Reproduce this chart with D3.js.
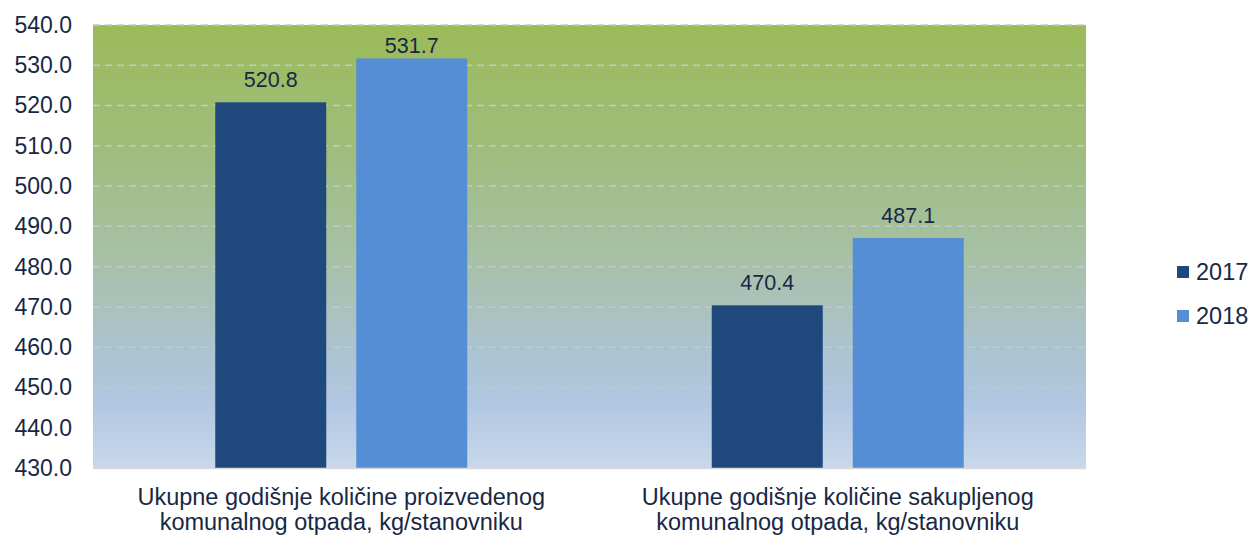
<!DOCTYPE html>
<html><head><meta charset="utf-8">
<script src="https://cdn.jsdelivr.net/npm/d3@7"></script>
<style>body{margin:0;background:#fff}svg{display:block}</style>
</head><body>
<script>
const categories = [
  ["Ukupne godišnje količine proizvedenog", "komunalnog otpada, kg/stanovniku"],
  ["Ukupne godišnje količine sakupljenog", "komunalnog otpada, kg/stanovniku"]
];
const seriesNames = ["2017", "2018"];
const values2017 = [520.8, 470.4];
const values2018 = [531.7, 487.1];
const seriesColors = ["#1f497d", "#558ed5"];
const yTicks = [430, 440, 450, 460, 470, 480, 490, 500, 510, 520, 530, 540];

const W = 1252, H = 538;
const m = {left: 93, right: 1086, top: 25, bottom: 468};
const svg = d3.select("body").append("svg").attr("width", W).attr("height", H);
const font = "Liberation Sans, Arial, sans-serif";
const txt = "#182844";

const defs = svg.append("defs");
const grad = defs.append("linearGradient").attr("id", "bg").attr("x1", 0).attr("y1", 0).attr("x2", 0).attr("y2", 1);
[["0%", "#9bbb59"], ["30%", "#a0bd7f"], ["55%", "#a8c1ab"], ["72%", "#abc3cd"], ["85%", "#b0c6e2"], ["100%", "#c9d8ea"]]
  .forEach(([o, c]) => grad.append("stop").attr("offset", o).attr("stop-color", c));

const y = d3.scaleLinear().domain([430, 540]).range([m.bottom, m.top]);
const x0 = d3.scaleBand().domain(d3.range(categories.length)).range([m.left, m.right]).paddingInner(0).paddingOuter(0);
const groupW = 252;
const x1 = d3.scaleBand().domain(seriesNames).range([0, groupW]).paddingInner(30 / 141).paddingOuter(0);

svg.append("rect").attr("x", m.left).attr("y", m.top).attr("width", m.right - m.left).attr("height", m.bottom - m.top).attr("fill", "url(#bg)");

// gridlines
svg.append("g").selectAll("line").data(yTicks.filter(t => t > 430)).join("line")
  .attr("x1", m.left).attr("x2", m.right).attr("y1", d => y(d)).attr("y2", d => y(d))
  .attr("stroke", "#c4c8d0").attr("stroke-width", 1.5).attr("stroke-dasharray", "7,5");

// y axis
const yAxis = d3.axisLeft(y).tickValues(yTicks).tickFormat(d3.format(".1f")).tickSize(0).tickPadding(21);
const ga = svg.append("g").attr("transform", `translate(${m.left},0)`).call(yAxis);
ga.select(".domain").remove();
ga.selectAll("text").attr("font-family", font).attr("font-size", 23).attr("fill", txt);

const data = seriesNames.map((s, i) => ({name: s, values: i === 0 ? values2017 : values2018, color: seriesColors[i]}));

const groups = svg.append("g").selectAll("g").data(categories).join("g")
  .attr("transform", (d, i) => `translate(${x0(i) + x0.bandwidth() / 2 - groupW / 2},0)`);

groups.each(function (c, ci) {
  const g = d3.select(this);
  data.forEach(s => {
    const v = s.values[ci];
    g.append("rect").attr("x", x1(s.name)).attr("width", x1.bandwidth())
      .attr("y", y(v)).attr("height", y(430) - y(v)).attr("fill", s.color);
    // labels are kept inside the plot area (as in the original)
    g.append("text").attr("x", x1(s.name) + x1.bandwidth() / 2).attr("y", Math.max(y(v) - 15, m.top + 28))
      .attr("text-anchor", "middle").attr("font-family", font).attr("font-size", 21.5).attr("fill", txt)
      .text(d3.format(".1f")(v));
  });
});

// x axis line
svg.append("line").attr("x1", m.left).attr("x2", m.right).attr("y1", m.bottom + 0.5).attr("y2", m.bottom + 0.5)
  .attr("stroke", "#d9d9d9").attr("stroke-width", 1.5);

// category labels
svg.append("g").selectAll("text").data(categories).join("text")
  .attr("text-anchor", "middle").attr("font-family", font).attr("font-size", 23.5).attr("fill", txt)
  .each(function (lines, i) {
    const t = d3.select(this);
    lines.forEach((l, j) => t.append("tspan").attr("x", x0(i) + x0.bandwidth() / 2).attr("y", 505 + j * 25).text(l));
  });

// legend
const leg = svg.append("g").selectAll("g").data(data).join("g")
  .attr("transform", (d, i) => `translate(1177,${266 + i * 44})`);
leg.append("rect").attr("width", 12).attr("height", 12).attr("fill", d => d.color);
leg.append("text").attr("x", 19).attr("y", 14).attr("font-family", font).attr("font-size", 23.5).attr("fill", txt).text(d => d.name);
</script>
</body></html>
